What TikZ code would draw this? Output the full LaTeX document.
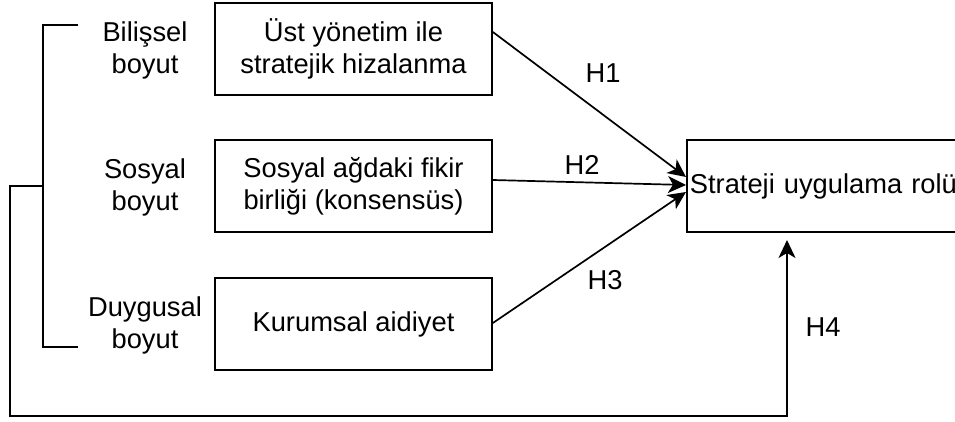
\documentclass[tikz,border=0pt]{standalone}
\usepackage{fontspec}
\setmainfont{Liberation Sans}
\usetikzlibrary{arrows.meta}
\begin{document}
\begin{tikzpicture}[x=1pt,y=-1pt,
  every node/.style={font=\fontsize{27.3}{32}\selectfont},
  box/.style={draw,line width=1.7pt,minimum width=277pt,minimum height=92pt,align=center,inner sep=0pt},
  lbl/.style={align=center,inner sep=0pt},
  conn/.style={line width=1.7pt},
  arr/.style={line width=1.7pt,-{Stealth[length=18pt,width=17pt,inset=5pt]}}]
\useasboundingbox (0,0) rectangle (955,421);
\clip (0,0) rectangle (955,421);
% left boxes
\node[box] (b1) at (353.5,49) {Üst yönetim ile\\stratejik hizalanma};
\node[box] (b2) at (353.5,186) {Sosyal ağdaki fikir\\birliği (konsensüs)};
\node[box] (b3) at (353.5,324) {Kurumsal aidiyet};
% dimension labels
\node[lbl] (l1) at (145,50) {Bilişsel\\boyut};
\node[lbl] (l2) at (145,187) {Sosyal\\boyut};
\node[lbl] (l3) at (145,325) {Duygusal\\boyut};
% outcome box
\node[draw,line width=1.7pt,minimum width=274pt,minimum height=92pt,inner xsep=3pt,text width=268pt,align=left,anchor=west] (out) at (686,186) {Strateji uygulama rolü};
% bracket
\coordinate (bt) at (78,25);
\coordinate (bb) at (78,347);
\coordinate (bm) at (43,186);
\draw[conn] (bt) -- (43,25) -- (43,347) -- (bb);
% H4 path
\coordinate (h4end) at (787,240);
\draw[arr] (bm) -- (10,186) -- (10,416) -- (787,416) -- (h4end);
% H1-H3 arrows
\draw[arr] ([yshift=17pt]b1.east) -- ([yshift=9pt]out.west);
\draw[arr] ([yshift=6pt]b2.east) -- ([yshift=1pt]out.west);
\draw[arr] ([yshift=1pt]b3.east) -- ([yshift=-6pt]out.west);
% hypothesis labels
\node[inner sep=0pt] (h1) at (603,73) {H1};
\node[inner sep=0pt] (h2) at (582,165) {H2};
\node[inner sep=0pt] (h3) at (605,280) {H3};
\node[inner sep=0pt] (h4) at (823,327) {H4};
\end{tikzpicture}
\end{document}
